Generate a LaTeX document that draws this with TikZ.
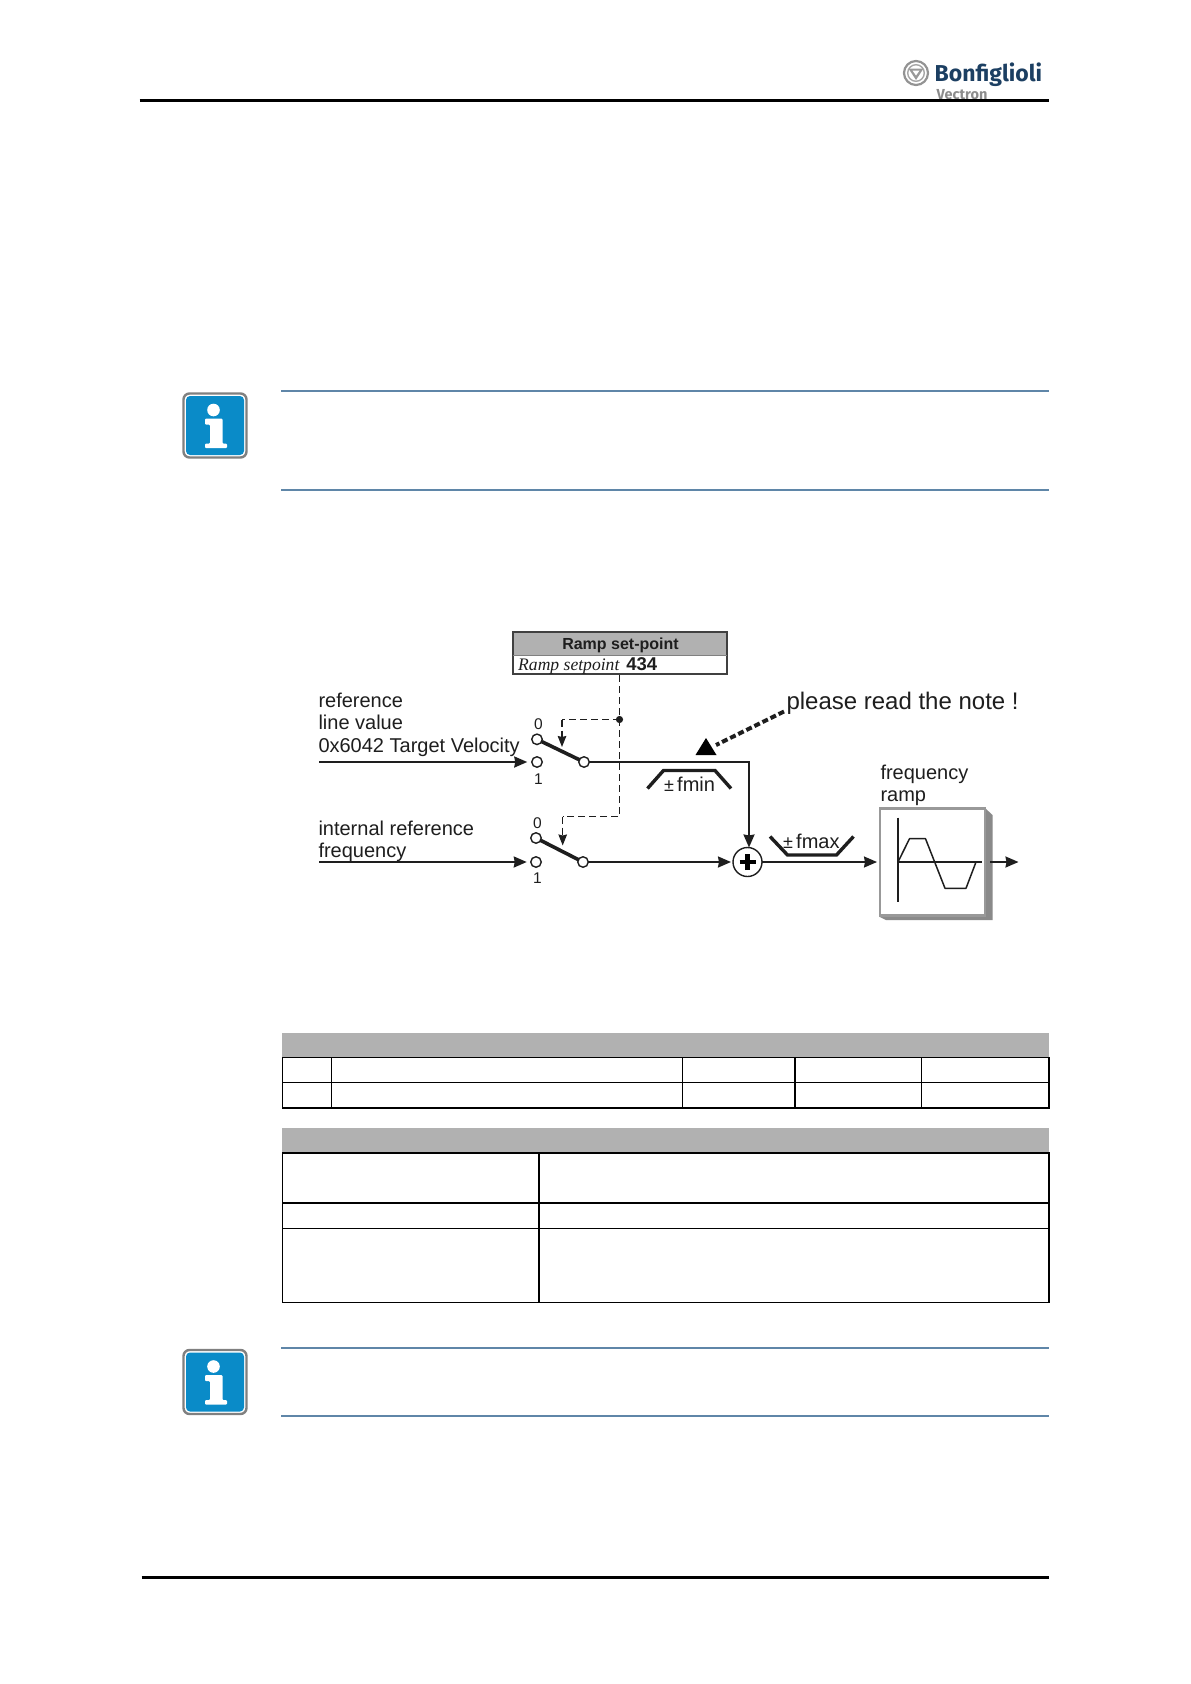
\documentclass[tikz,border=0pt]{standalone}
\usepackage{fontspec}
\setmainfont{Liberation Sans}
\newfontfamily\serifit{Liberation Serif}
\newfontfamily\logofont{Fira Sans}
\usetikzlibrary{arrows.meta}
\definecolor{ink}{HTML}{1E1E1E}
\definecolor{headgray}{HTML}{B1B1B1}
\definecolor{rulegray}{HTML}{999999}
\definecolor{sidegray}{HTML}{8A8A8A}
\definecolor{bluerule}{HTML}{5F86A8}
\definecolor{infoblue}{HTML}{0A8BC8}
\definecolor{logonavy}{HTML}{1C3F62}
\tikzset{
  x=1pt,y=-1pt,
  lbl/.style={anchor=base west,inner sep=0pt,outer sep=0pt,text=ink,font=\fontsize{20}{24}\selectfont},
  num/.style={inner sep=0pt,outer sep=0pt,text=ink,font=\fontsize{15.5}{18}\selectfont},
  port/.style={circle,draw=ink,line width=1.4pt,fill=white,minimum size=10.5pt,inner sep=0pt,outer sep=0pt},
  wire/.style={draw=ink,line width=2pt},
  arrowed/.style={wire,-{Stealth[length=13pt,width=11pt,inset=1pt]}},
  ctrl/.style={draw=ink,line width=1.4pt,dash pattern=on 7pt off 4pt},
  ctrlarrow/.style={ctrl,-{Stealth[length=11pt,width=8.5pt,inset=1pt]}},
  lever/.style={draw=ink,line width=3.6pt},
  limiter/.style={draw=ink,line width=3.4pt,line join=miter},
  tabline/.style={draw=black,line width=1.3pt},
  tabthick/.style={draw=black,line width=2pt},
  bluerulestyle/.style={draw=bluerule,line width=1.8pt},
  pagerule/.style={draw=black,line width=3pt},
  infoicon/.pic={
    \draw[draw=gray,line width=2.4pt,fill=white,rounded corners=6pt] (0,0) rectangle (63,64);
    \fill[infoblue,rounded corners=4pt] (2.5,2.5) rectangle (60.5,61.5);
    \fill[white] (30,16.5) circle (6.3);
    \fill[white,rounded corners=1pt] (21.5,25) -- (39,25) -- (39,50) -- (43.5,50) -- (43.5,54.5) -- (21.5,54.5) -- (21.5,50) -- (26.5,50) -- (26.5,31) -- (21.5,31) -- cycle;
  }
}
\begin{document}
\begin{tikzpicture}
\useasboundingbox (0,0) rectangle (1191,1684);
\fill[white] (0,0) rectangle (1191,1684);

% page header and footer
\coordinate (hl) at (139.5,100.7); \coordinate (hr) at (1049,100.7);
\coordinate (fl) at (141.5,1577); \coordinate (fr) at (1049,1577);
\draw[pagerule] (fl) -- (fr);

% logo
\draw[gray!85,line width=2.2pt,fill=white] (916,73) circle (12);
\draw[gray!70,line width=1.4pt] (916,73) circle (8.3);
\fill[gray!80] (908.5,68.5) -- (923.5,68.5) -- (916,80) -- cycle;
\fill[white] (912.5,70.5) -- (919.5,70.5) -- (916,75.5) -- cycle;
\node[anchor=base west,inner sep=0pt,text=logonavy,font=\logofont\bfseries\fontsize{23}{28}\selectfont] (logoname) at (934.5,81) {Bonfiglioli};
\node[anchor=base west,inner sep=0pt,text=gray!90,font=\logofont\fontsize{14.5}{17}\selectfont\bfseries] (logosub) at (936.5,99) {Vectron};
\draw[pagerule] (hl) -- (hr);

% info notes
\pic at (183.5,393.5) {infoicon};
\pic at (183.5,1350) {infoicon};
\coordinate (n1a) at (281,391); \coordinate (n1b) at (1049,391);
\coordinate (n2a) at (281,490); \coordinate (n2b) at (1049,490);
\coordinate (n3a) at (281,1347.7); \coordinate (n3b) at (1049,1347.7);
\coordinate (n4a) at (281,1415.7); \coordinate (n4b) at (1049,1415.7);
\draw[bluerulestyle] (n1a) -- (n1b);
\draw[bluerulestyle] (n2a) -- (n2b);
\draw[bluerulestyle] (n3a) -- (n3b);
\draw[bluerulestyle] (n4a) -- (n4b);

% Ramp set-point box
\fill[headgray] (513,632) rectangle (727,655);
\fill[white] (513,655) rectangle (727,674);
\draw[draw=ink!85,line width=1.4pt] (513,632) rectangle (727,674);
\draw[draw=gray,line width=1pt] (513,655) -- (727,655);
\node[inner sep=0pt,text=ink,font=\bfseries\fontsize{16}{19}\selectfont,anchor=base] (rampt) at (620.5,649.5) {Ramp set-point};
\node[anchor=base west,inner sep=0pt,text=ink,font=\fontsize{17.6}{20}\selectfont] (rampv) at (518,670) {{\serifit\itshape Ramp setpoint}\hspace{6.5pt}{\fontsize{18.5}{20}\selectfont\textbf{434}}};
\coordinate (rampb) at (619.5,675);

% switches
\node[port] (a0) at (537,739.3) {};
\node[port] (a1) at (537,762) {};
\node[port] (aout) at (584,762) {};
\node[port] (b0) at (536,838) {};
\node[port] (b1) at (536,862) {};
\node[port] (bout) at (583,862) {};
\node[num] (a0t) at (538.5,724.5) {0};
\node[num] (a1t) at (538.5,779) {1};
\node[num] (b0t) at (537.5,823) {0};
\node[num] (b1t) at (537.5,878) {1};
\draw[lever] (a0) -- (aout);
\draw[lever] (b0) -- (bout);

% sum
\node[circle,draw=ink,line width=1.4pt,fill=white,minimum size=29pt,inner sep=0pt,outer sep=0pt] (sum) at (747.5,862) {};
\draw[draw=black,line width=4.2pt] ([xshift=-8pt]sum.center) -- ([xshift=8pt]sum.center);
\draw[draw=black,line width=4.2pt] ([yshift=-8pt]sum.center) -- ([yshift=8pt]sum.center);

% inputs and main wires
\coordinate (ina) at (319,762);
\coordinate (inb) at (319,862);
\draw[arrowed] (ina) -- ([xshift=-4.5pt]a1.west);
\draw[arrowed] (inb) -- ([xshift=-4pt]b1.west);
\coordinate (cornera) at (749,762);
\draw[arrowed] (aout) -- (cornera) -- (cornera |- sum.north);
\draw[arrowed,shorten >=2pt] (bout) -- (sum);

% control lines
\coordinate (junction) at (619.5,719.5);
\coordinate (ctrlturn) at (619.5,816.7);
\coordinate (topturn) at (562,719.5);
\coordinate (toptip) at (562,747);
\coordinate (lowturn) at (562.7,816.7);
\coordinate (lowtip) at (562.7,845.5);
\draw[ctrl] (rampb) -- (junction) -- (ctrlturn) -- (lowturn);
\draw[ctrlarrow] (lowturn) -- (lowtip);
\draw[ctrl] (junction) -- (topturn);
\draw[ctrlarrow] (topturn) -- (toptip);
\fill[ink] (junction) circle (3.6);

% limiters
\draw[limiter] (647.5,788.5) -- (663.5,770.5) -- (715,770.5) -- (731,788.5);
\draw[limiter] (770,836.5) -- (787.5,855) -- (836.5,855) -- (853.5,836.5);
\node[lbl] (fmin) at (664,791) {{\fontsize{18}{20}\selectfont ±}\,fmin};
\node[lbl] (fmax) at (783,848) {{\fontsize{18}{20}\selectfont ±}\,fmax};

% labels
\node[lbl] (t1) at (318.5,707) {reference};
\node[lbl] (t2) at (318.5,729.5) {line value};
\node[lbl] (t3) at (318.5,752) {0x6042 Target Velocity};
\node[lbl] (t4) at (318.5,835) {internal reference};
\node[lbl] (t5) at (318.5,857.5) {frequency};
\node[lbl] (t6) at (880.5,779) {frequency};
\node[lbl] (t7) at (880.5,801.5) {ramp};
\node[lbl,font=\fontsize{24}{28}\selectfont] (note) at (786.5,709) {please read the note !};

% note arrow
\coordinate (notetail) at (784,711.5);
\coordinate (notehead) at (716,745);
\draw[draw=ink,line width=4pt,dash pattern=on 6pt off 3pt] (notetail) -- (notehead);
\fill[black] (706,738) -- (695.5,755) -- (716.5,755) -- cycle;

% ramp block
\fill[sidegray] (985,808) -- (992.5,815) -- (992.5,920) -- (886,920) -- (879,916.5) -- (985,916.5) -- cycle;
\node[draw=rulegray,line width=2.8pt,fill=white,minimum width=105pt,minimum height=107pt,inner sep=0pt,outer sep=0pt] (rampblock) at (932.5,862) {};
\coordinate (axtop) at (898,817.7); \coordinate (axbot) at (898,902.3);
\coordinate (axl) at (898,862); \coordinate (axr) at (981.5,862);
\draw[draw=ink,line width=1.9pt] (axtop) -- (axbot);
\draw[draw=ink,line width=1.5pt] (axl) -- (axr);
\draw[draw=ink,line width=1.5pt,line join=round] (898,862) -- (909.5,838.7) -- (925.5,838.7) -- (945,888.3) -- (966,888.3) -- (976,862);
\coordinate (rampout) at (1018.5,862);
\draw[arrowed,line width=1.6pt,shorten >=3pt] (sum) -- (rampblock);
\coordinate (rampsrc) at (990,862);
\draw[arrowed,line width=1.6pt] (rampsrc) -- (rampout);

% table 1
\fill[headgray] (282,1033.3) rectangle (1049,1057);
\draw[tabline] (282.5,1057.7) rectangle (1049,1108);
\draw[tabline] (282,1082.3) -- (1049,1082.3);
\draw[tabthick] (282,1108) -- (1049,1108);
\draw[tabline] (331.2,1057.7) -- (331.2,1108);
\draw[tabline] (682.8,1057.7) -- (682.8,1108);
\draw[tabline] (795,1057.7) -- (795,1108);
\draw[tabline] (921.5,1057.7) -- (921.5,1108);

% table 2
\fill[headgray] (282,1128) rectangle (1049,1152);
\draw[tabline] (282.5,1153) rectangle (1049,1302.3);
\draw[tabthick] (282,1153) -- (1049,1153);
\draw[tabthick] (282,1202.7) -- (1049,1202.7);
\draw[tabline] (282,1228.3) -- (1049,1228.3);
\draw[tabline] (538.9,1153) -- (538.9,1302.3);
\end{tikzpicture}
\end{document}
